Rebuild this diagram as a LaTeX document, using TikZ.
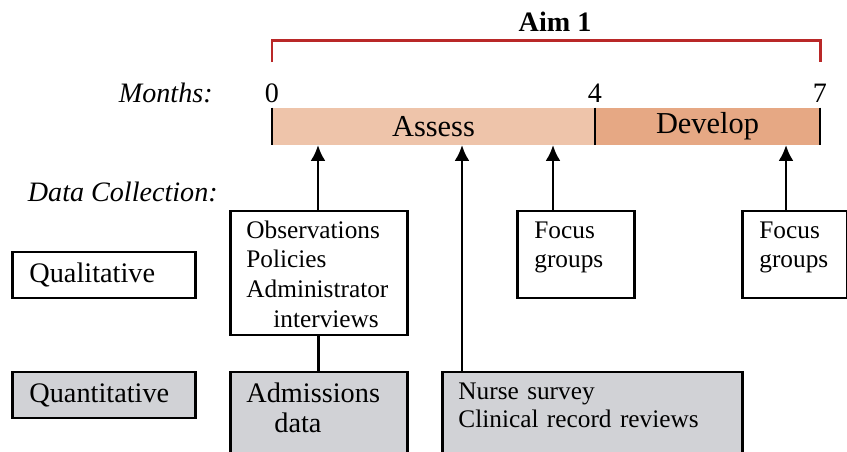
\documentclass[tikz,border=0pt]{standalone}
\usepackage{fontspec}
\setmainfont{Liberation Serif}
\usetikzlibrary{arrows.meta}
\definecolor{assesscol}{RGB}{238,196,170}
\definecolor{developcol}{RGB}{230,168,132}
\definecolor{quantgray}{RGB}{209,210,214}
\definecolor{aimred}{RGB}{185,40,40}
\begin{document}
\begin{tikzpicture}[x=0.02cm,y=-0.02cm,>={Latex[length=9pt,width=8.5pt]},
    box/.style={draw,line width=1.6pt,anchor=base west,align=left,inner ysep=0pt,inner xsep=0.32cm},
    small/.style={font=\fontsize{14.4}{16.9}\selectfont},
    big/.style={font=\fontsize{16.1}{17.6}\selectfont},
    phase/.style={inner sep=0pt,minimum height=0.74cm,font=\fontsize{17.3}{20}\selectfont},
    lbl/.style={anchor=base east,inner sep=0pt,font=\fontsize{16}{19}\selectfont\itshape},
    tick/.style={line width=1.2pt},
    arr/.style={->,line width=1.6pt}]
  \useasboundingbox (0,0) rectangle (847,451);
  \clip (0,0) rectangle (847,451);

  % timeline
  \node (aim) at (555,22) {\fontsize{16}{19}\selectfont\bfseries Aim 1};
  \draw[aimred,line width=1.7pt] (272,62) |- (820,40) -- (820,62);
  \node[phase,fill=assesscol,minimum width=6.46cm] (assess) at (433.5,126.5) {Assess};
  \node[phase,fill=developcol,minimum width=4.5cm] (develop) at (707.5,126.5) {Develop};
  \draw[tick] (assess.north west) -- (assess.south west);
  \draw[tick] (develop.north west) -- (develop.south west);
  \draw[tick] (develop.north east) -- (develop.south east);
  \node[anchor=base,font=\fontsize{16}{19}\selectfont] (m0) at (272,102) {0};
  \node[anchor=base,font=\fontsize{16}{19}\selectfont] (m4) at (595,102) {4};
  \node[anchor=base,font=\fontsize{16}{19}\selectfont] (m7) at (820,102) {7};
  \node[lbl] (months) at (213,102) {Months:};
  \node[lbl] (datacoll) at (218,201) {Data Collection:};

  % row labels
  \node[box,big,inner xsep=0.34cm,text width=2.98cm,text height=0.6cm,text depth=0.32cm] (qual) at (11,282) {Qualitative};
  \node[box,big,fill=quantgray,inner xsep=0.34cm,text width=2.98cm,text height=0.6cm,text depth=0.32cm] (quant) at (11,402) {Quantitative};

  % data sources
  \node[box,small,text width=2.9cm,text height=0.54cm,text depth=1.94cm] (obs) at (229,238)
    {Observations\\Policies\\Administrator\\\hspace*{0.54cm}interviews};
  \node[box,small,inner xsep=0.34cm,text width=1.66cm,text height=0.54cm,text depth=1.2cm] (focus1) at (516,238)
    {Focus\\groups};
  \node[box,small,inner xsep=0.34cm,text width=1.42cm,text height=0.54cm,text depth=1.2cm] (focus2) at (741,238)
    {Focus\\groups};
  \node[box,big,fill=quantgray,text width=2.9cm,text height=0.6cm,text depth=1.3cm] (adm) at (229,402)
    {Admissions\\\hspace*{0.56cm}data};
  \node[box,small,fill=quantgray,text width=5.36cm,text height=0.54cm,text depth=1.3cm,
    font=\fontsize{14.4}{16.3}\selectfont] (nurse) at (441,399)
    {Nurse survey\\Clinical record reviews};

  % arrows into the timeline
  \coordinate (t1) at (318,145);
  \coordinate (t2) at (462,145);
  \coordinate (t3) at (553,145);
  \coordinate (t4) at (786,145);
  \draw[arr] (obs.north -| t1) -- (t1);
  \draw[arr] (nurse.north -| t2) -- (t2);
  \draw[arr] (focus1.north -| t3) -- (t3);
  \draw[arr] (focus2.north -| t4) -- (t4);
  \draw[line width=1.6pt] (obs.south) -- (adm.north);
\end{tikzpicture}
\end{document}
